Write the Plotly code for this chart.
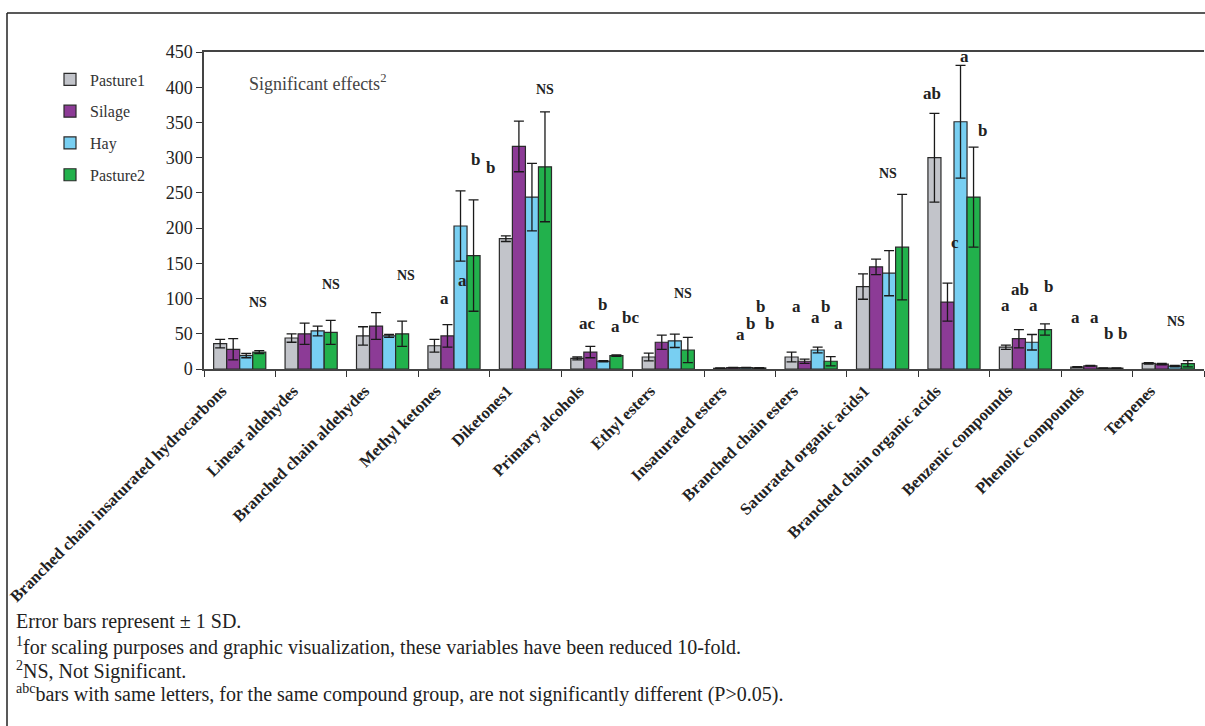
import plotly.graph_objects as go

categories = [
    "Branched chain insaturated hydrocarbons", "Linear aldehydes", "Branched chain aldehydes",
    "Methyl ketones", "Diketones1", "Primary alcohols", "Ethyl esters", "Insaturated esters",
    "Branched chain esters", "Saturated organic acids1", "Branched chain organic acids",
    "Benzenic compounds", "Phenolic compounds", "Terpenes",
]
series_names = ["Pasture1", "Silage", "Hay", "Pasture2"]
pasture1 = [36, 44, 47, 33, 185, 15, 17, 1.0, 17, 117, 300, 31, 2.7, 8]
pasture1_sd = [6, 6, 13, 9, 4, 2, 5.5, 0.4, 7, 18, 63, 3, 0.5, 1]
silage = [28, 50, 61, 47, 316, 24, 38, 2.0, 11, 145, 95, 43, 4.5, 7]
silage_sd = [15, 15, 19, 16, 36, 8, 10, 0.4, 3, 11, 27, 13, 0.5, 1]
hay = [19, 54, 47, 203, 244, 11, 40, 2.0, 27, 136, 351, 38, 1.2, 4]
hay_sd = [3, 7, 2, 50, 48, 1, 9.5, 0.4, 4, 32, 80, 11, 0.3, 1]
pasture2 = [24, 52, 50, 161, 287, 19, 27, 1.5, 11, 173, 244, 56, 1.2, 7.5]
pasture2_sd = [2, 17, 18, 79, 78, 1, 18, 0.4, 6.5, 75, 71, 8, 0.3, 4.5]

# significance letters: text, x (category index position), y (value units)
sig_text = ["NS", "NS", "NS", "a", "a", "b", "b", "NS", "ac", "b", "a", "bc", "NS",
            "a", "b", "b", "b", "a", "a", "b", "a", "NS", "ab", "c", "a", "b",
            "a", "ab", "a", "b", "a", "a", "b", "b", "NS"]
sig_x = [0.252, 1.278, 2.324, 2.864, 3.116, 3.294, 3.514, 4.274, 4.872, 5.076, 5.264, 5.464, 6.21,
         7.014, 7.154, 7.284, 7.414, 7.798, 8.054, 8.194, 8.38, 9.08, 9.696, 10.01, 10.14, 10.4,
         10.724, 10.924, 11.11, 11.32, 11.703, 11.96, 12.16, 12.362, 13.108]
sig_y = [93.7, 120.2, 133.4, 100.4, 126.3, 296.7, 285.8, 397, 64.9, 90.9, 61, 73.4, 107.5,
         48.3, 64.9, 88.4, 64.9, 88.4, 73.4, 88.4, 64.9, 277.8, 390.4, 179.9, 443.4, 338.3,
         89.9, 113.1, 89.9, 117.8, 73.4, 73.4, 50.7, 50.7, 67.1]

footnotes = [
    "Error bars represent ± 1 SD.",
    "<sup>1</sup>for scaling purposes and graphic visualization, these variables have been reduced 10-fold.",
    "<sup>2</sup>NS, Not Significant.",
    "<sup>abc</sup>bars with same letters, for the same compound group, are not significantly different (P>0.05).",
]

colors = ["#c2c4ca", "#8c3b96", "#78cff2", "#22b14c"]
values = [pasture1, silage, hay, pasture2]
sds = [pasture1_sd, silage_sd, hay_sd, pasture2_sd]

SERIF = "Liberation Serif"

fig = go.Figure()
for i, name in enumerate(series_names):
    fig.add_trace(go.Bar(
        x=categories, y=values[i], name=name, legendgroup=name,
        marker=dict(color=colors[i], line=dict(color="#2a2a2a", width=1.2)),
        error_y=dict(type="data", array=sds[i], visible=True, color="#1a1a1a",
                     thickness=1.3, width=5),
    ))

annotations = []
for t, x, y in zip(sig_text, sig_x, sig_y):
    is_ns = t == "NS"
    annotations.append(dict(
        x=x, y=y, xref="x", yref="y", text=t, showarrow=False,
        font=dict(family=SERIF, size=14 if is_ns else 17, color="#222", weight="bold"),
        xanchor="center", yanchor="middle",
    ))

annotations.append(dict(
    x=0.043, y=0.903, xref="paper", yref="paper", xanchor="left", yanchor="middle",
    text="Significant effects<sup>2</sup>", showarrow=False,
    font=dict(family=SERIF, size=18, color="#444"),
))

foot_y = [-0.798, -0.874, -0.950, -1.025]
for t, y in zip(footnotes, foot_y):
    annotations.append(dict(
        x=-0.19, y=y, xref="paper", yref="paper", xanchor="left", yanchor="middle",
        text=t, showarrow=False, font=dict(family=SERIF, size=20, color="#222"),
    ))

shapes = [
    dict(type="line", xref="paper", yref="paper", x0=-0.197, x1=1.05, y0=1.123, y1=1.123,
         line=dict(color="#222", width=1.5)),
    dict(type="line", xref="paper", yref="paper", x0=-0.197, x1=-0.197, y0=1.123, y1=-1.2,
         line=dict(color="#222", width=1.5)),
]

fig.update_layout(
    width=1205, height=726,
    margin=dict(l=204, r=1, t=52, b=357, autoexpand=False),
    paper_bgcolor="white", plot_bgcolor="white",
    barmode="group", bargap=0.27, bargroupgap=0,
    showlegend=True,
    legend=dict(x=-0.154, y=0.967, xanchor="left", yanchor="top",
                font=dict(family=SERIF, size=16, color="#333"),
                tracegroupgap=8, itemwidth=30, bgcolor="rgba(0,0,0,0)"),
    annotations=annotations, shapes=shapes,
    xaxis=dict(type="category", tickangle=-45, tickson="boundaries", ticks="outside",
               ticklen=6, tickcolor="#333", showline=True, linecolor="#444", linewidth=1.5,
               mirror=True, showgrid=False, ticklabelshift=-18, ticklabelstandoff=4,
               automargin=False,
               tickfont=dict(family=SERIF, size=16.5, color="#222", weight="bold")),
    yaxis=dict(range=[0, 450], dtick=50, ticks="outside", ticklen=6, tickcolor="#333",
               showline=True, linecolor="#444", linewidth=1.5, showgrid=False, zeroline=False,
               automargin=False,
               tickfont=dict(family=SERIF, size=18, color="#222")),
)

fig.write_html("out.html", config={"displayModeBar": False},
               post_script="document.body.style.margin='0';document.body.style.overflow='hidden';")
